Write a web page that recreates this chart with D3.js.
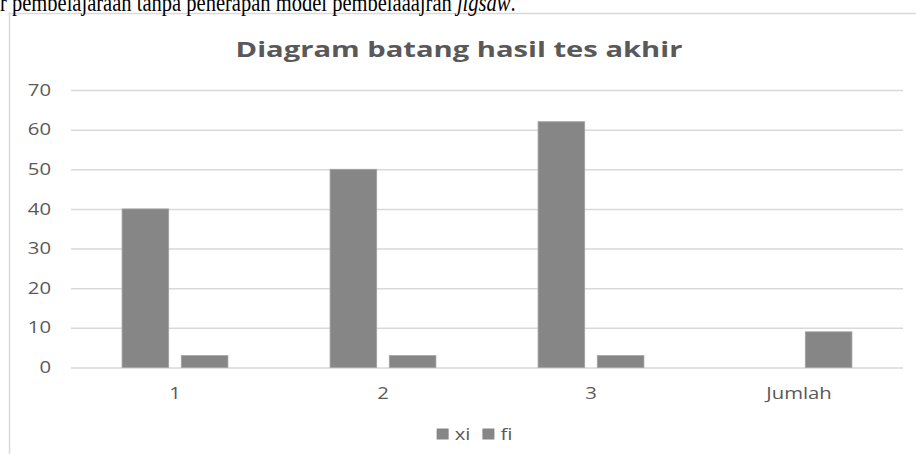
<!DOCTYPE html>
<html>
<head>
<meta charset="utf-8">
<script src="https://cdn.jsdelivr.net/npm/d3@7"></script>
<style>
  html, body { margin: 0; padding: 0; background: #ffffff; }
  svg { display: block; }
</style>
</head>
<body>
<svg id="chart" width="916" height="454"></svg>
<script>
// Chart data
const categories = ["1", "2", "3", "Jumlah"];
const seriesNames = ["xi", "fi"];
const xiValues = [40, 50, 62, null];
const fiValues = [3, 3, 3, 9];
const yTicks = [0, 10, 20, 30, 40, 50, 60, 70];
const chartTitle = "Diagram batang hasil tes akhir";
const captionText = "r pembelajaraan tanpa penerapan model pembelaaajran ";
const captionItalic = "jigsaw";

const W = 916, H = 454;
const sx = 1.27;               // horizontal stretch applied to chart text
const textColor = "#595959";
const gridColor = "#d9d9d9";
const barFill = "#868686";
const barStroke = "#a3a3a3";
const uiFont = "'Open Sans', 'Noto Sans', sans-serif";

const svg = d3.select("#chart");

// Chart area border
svg.append("rect")
  .attr("x", 9.5).attr("y", 13.5)
  .attr("width", 940).attr("height", 480)
  .attr("fill", "#fff")
  .attr("stroke", gridColor)
  .attr("stroke-width", 1.5);

// Running text line above the chart box
const cap = svg.append("text")
  .attr("transform", "translate(0,11) scale(0.79,1)")
  .attr("font-family", "'Liberation Serif', 'DejaVu Serif', serif")
  .attr("font-size", 26)
  .attr("fill", "#000");
cap.append("tspan").text(captionText);
cap.append("tspan").attr("font-style", "italic").text(captionItalic);
cap.append("tspan").text(".");

const plot = { left: 71, right: 903, top: 90, bottom: 367.5 };

const x = d3.scaleBand()
  .domain(categories)
  .range([plot.left, plot.right])
  .paddingInner(0).paddingOuter(0);

const xSeries = d3.scaleBand()
  .domain(seriesNames)
  .range([0, x.bandwidth()])
  .paddingInner(0.2126)
  .paddingOuter(0.862);

const y = d3.scaleLinear()
  .domain([0, 70])
  .range([plot.bottom, plot.top]);

// Title
svg.append("text")
  .attr("transform", `translate(459,57) scale(1.39,1)`)
  .attr("text-anchor", "middle")
  .attr("font-family", uiFont)
  .attr("font-weight", 700)
  .attr("font-size", 21)
  .attr("fill", textColor)
  .text(chartTitle);

// Y axis with gridlines
const yAxis = svg.append("g")
  .attr("transform", `translate(${plot.left},0)`)
  .call(d3.axisLeft(y)
    .tickValues(yTicks)
    .tickSize(-(plot.right - plot.left))
    .tickPadding(20 / sx));
yAxis.select(".domain").remove();
yAxis.selectAll(".tick line")
  .attr("stroke", gridColor)
  .attr("stroke-width", 1.5);
yAxis.selectAll(".tick text")
  .attr("transform", `scale(${sx},1)`)
  .attr("font-family", uiFont)
  .attr("font-size", 16)
  .attr("fill", textColor);

// Bars
const rows = categories.map((c, i) => ({ cat: c, xi: xiValues[i], fi: fiValues[i] }));
const groups = svg.append("g").selectAll("g")
  .data(rows)
  .join("g")
  .attr("transform", d => `translate(${x(d.cat)},0)`);

groups.selectAll("rect")
  .data(d => seriesNames.map(s => ({ key: s, value: d[s] })).filter(v => v.value != null))
  .join("rect")
  .attr("x", d => xSeries(d.key))
  .attr("y", d => y(d.value))
  .attr("width", xSeries.bandwidth())
  .attr("height", d => y(0) - y(d.value))
  .attr("fill", barFill)
  .attr("stroke", barStroke)
  .attr("stroke-width", 0.8);

// X axis labels
const xAxis = svg.append("g")
  .attr("transform", `translate(0,${plot.bottom})`)
  .call(d3.axisBottom(x).tickSize(0).tickPadding(20));
xAxis.select(".domain").remove();
xAxis.selectAll(".tick text")
  .attr("transform", `scale(${sx},1)`)
  .attr("font-family", uiFont)
  .attr("font-size", 16)
  .attr("fill", textColor);

// Legend
const legend = svg.append("g").attr("transform", "translate(0,434)");
const items = legend.selectAll("g")
  .data(seriesNames)
  .join("g");
items.append("rect")
  .attr("x", 0).attr("y", -5.5)
  .attr("width", 12).attr("height", 11)
  .attr("fill", barFill);
items.append("text")
  .attr("transform", `translate(18,0) scale(${sx},1)`)
  .attr("dy", "0.35em")
  .attr("font-family", uiFont)
  .attr("font-size", 16)
  .attr("fill", textColor)
  .text(d => d);
let cursor = 0;
const offsets = [];
items.each(function () {
  const w = 18 + this.querySelector("text").getComputedTextLength() * sx;
  offsets.push(cursor);
  cursor += w + 12;
});
const legendWidth = cursor - 12;
const legendStart = 474.5 - legendWidth / 2;
items.attr("transform", (d, i) => `translate(${legendStart + offsets[i]},0)`);
</script>
</body>
</html>
